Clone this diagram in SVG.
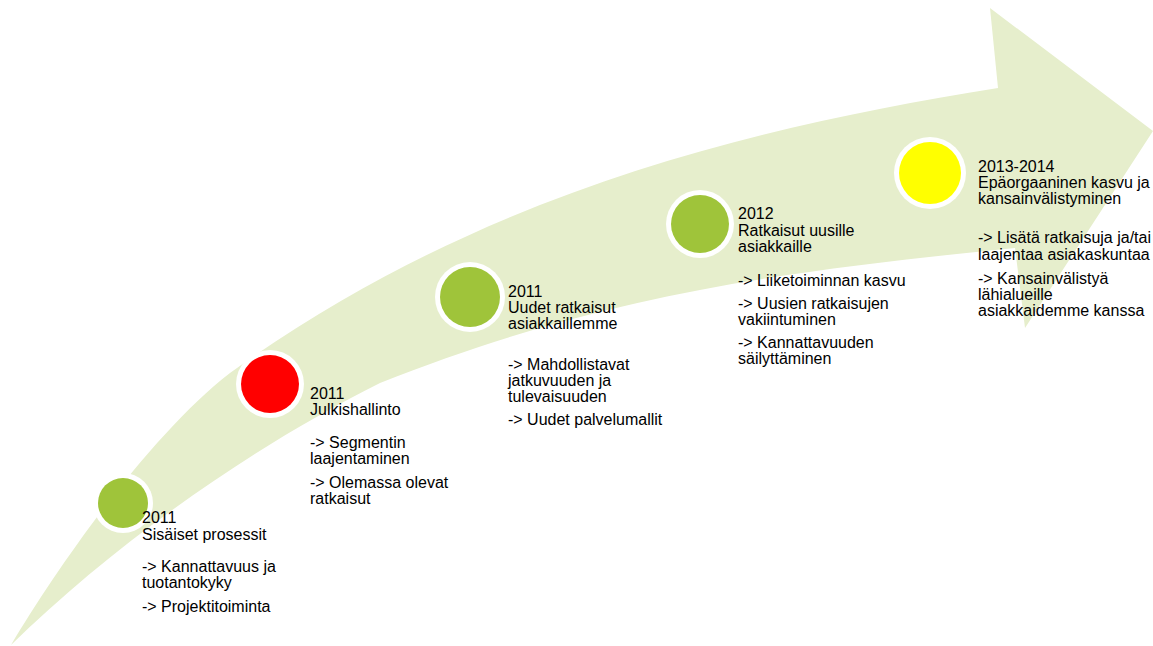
<svg xmlns="http://www.w3.org/2000/svg" width="1153" height="646" viewBox="0 0 1153 646">
  <style>
    .band { fill: #E6EECC; }
    .ring { fill: #FFFFFF; }
    .green { fill: #9FC43A; }
    .red { fill: #FF0000; }
    .yellow { fill: #FFFF00; }
    text { font-family: "Liberation Sans", Arial, sans-serif; font-size: 16px; fill: #000000; }
  </style>
  <rect width="1153" height="646" fill="#FFFFFF"/>
  <g id="arrow">
    <path class="band" d="M11,645 C60,563 150,435 230,373 C480,193 748,128 998,88 L990,8 L1153,131 L1025,328 L1015,248 C785,271 600,295 380,383 C250,448 113,545 11,645 Z"/>
  </g>
  <g id="node-2011-sisaiset">
    <circle class="ring" cx="123" cy="503" r="30"/>
    <circle class="green" cx="123" cy="503" r="25"/>
    <text x="142" y="523">2011</text>
    <text x="142" y="540">Sisäiset prosessit</text>
    <text x="142" y="572">-&gt; Kannattavuus ja</text>
    <text x="142" y="588">tuotantokyky</text>
    <text x="142" y="612">-&gt; Projektitoiminta</text>
  </g>
  <g id="node-2011-julkishallinto">
    <circle class="ring" cx="270" cy="384" r="34"/>
    <circle class="red" cx="270" cy="384" r="29"/>
    <text x="310" y="399">2011</text>
    <text x="310" y="415">Julkishallinto</text>
    <text x="310" y="448">-&gt; Segmentin</text>
    <text x="310" y="464">laajentaminen</text>
    <text x="310" y="488">-&gt; Olemassa olevat</text>
    <text x="310" y="504">ratkaisut</text>
  </g>
  <g id="node-2011-uudet">
    <circle class="ring" cx="470" cy="297" r="35"/>
    <circle class="green" cx="470" cy="297" r="30"/>
    <text x="508" y="297">2011</text>
    <text x="508" y="313">Uudet ratkaisut</text>
    <text x="508" y="329">asiakkaillemme</text>
    <text x="508" y="370">-&gt; Mahdollistavat</text>
    <text x="508" y="386">jatkuvuuden ja</text>
    <text x="508" y="402">tulevaisuuden</text>
    <text x="508" y="425">-&gt; Uudet palvelumallit</text>
  </g>
  <g id="node-2012">
    <circle class="ring" cx="700" cy="224" r="34"/>
    <circle class="green" cx="700" cy="224" r="29"/>
    <text x="738" y="219">2012</text>
    <text x="738" y="236">Ratkaisut uusille</text>
    <text x="738" y="252">asiakkaille</text>
    <text x="738" y="286">-&gt; Liiketoiminnan kasvu</text>
    <text x="738" y="309">-&gt; Uusien ratkaisujen</text>
    <text x="738" y="325">vakiintuminen</text>
    <text x="738" y="348">-&gt; Kannattavuuden</text>
    <text x="738" y="364">säilyttäminen</text>
  </g>
  <g id="node-2013-2014">
    <circle class="ring" cx="930" cy="173" r="36"/>
    <circle class="yellow" cx="930" cy="173" r="31"/>
    <text x="978" y="172">2013-2014</text>
    <text x="978" y="188">Epäorgaaninen kasvu ja</text>
    <text x="978" y="204">kansainvälistyminen</text>
    <text x="978" y="243">-&gt; Lisätä ratkaisuja ja/tai</text>
    <text x="978" y="260">laajentaa asiakaskuntaa</text>
    <text x="978" y="284">-&gt; Kansainvälistyä</text>
    <text x="978" y="300">lähialueille</text>
    <text x="978" y="316">asiakkaidemme kanssa</text>
  </g>
</svg>
